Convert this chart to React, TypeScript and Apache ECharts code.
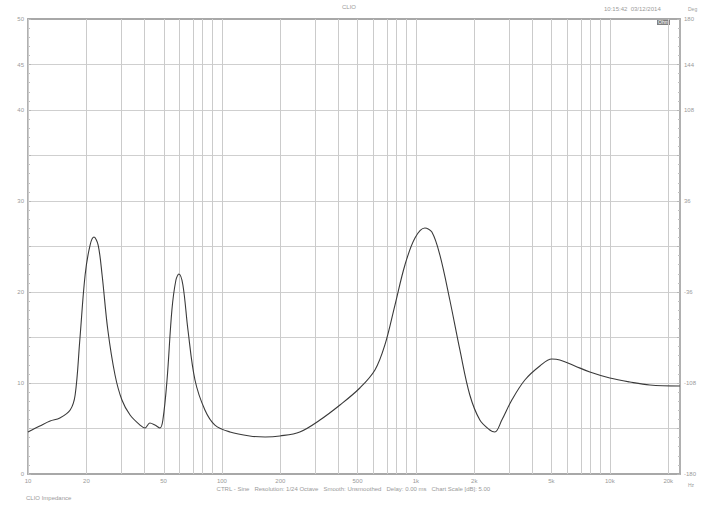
import React, { useEffect, useRef } from "react";
import * as echarts from "echarts";

// Impedance curve (frequency in Hz, magnitude in Ohm)
const freqs = [10, 11.5, 13.0, 14.6, 16.5, 17.5, 18.5, 19.7, 20.9, 21.9, 23.0, 24.1, 25.8, 28.1, 30.5, 33.6, 37.8, 40.1, 42.5, 45.1, 47.9, 49.6, 52.1, 55.2, 57.9, 60.0, 62.9, 66.8, 72.6, 81.7, 92.0, 110, 139, 167, 199, 252, 320, 406, 514, 615, 692, 780, 878, 989, 1112, 1209, 1329, 1496, 1686, 1897, 2137, 2405, 2553, 2774, 3124, 3646, 4356, 5023, 5521, 6602, 7889, 10000, 12680, 16070, 22960];
const ohms = [4.62, 5.27, 5.82, 6.15, 7.03, 8.68, 14.73, 21.87, 25.16, 26.04, 25.16, 21.87, 15.82, 10.88, 8.13, 6.48, 5.38, 5.05, 5.6, 5.38, 5.05, 5.93, 10.33, 18.02, 21.32, 21.98, 20.77, 15.82, 10.33, 7.03, 5.38, 4.62, 4.18, 4.07, 4.18, 4.62, 5.93, 7.58, 9.45, 11.43, 14.18, 18.57, 22.97, 25.93, 27.03, 26.59, 24.07, 19.12, 13.63, 8.68, 5.93, 4.84, 4.62, 5.93, 8.13, 10.33, 11.87, 12.64, 12.53, 11.87, 11.21, 10.55, 10.11, 9.78, 9.67];

const xLabelFreqs = [10, 20, 50, 100, 200, 500, 1000, 2000, 5000, 10000, 20000];
const xGridFreqs = [10, 20, 30, 40, 50, 60, 70, 80, 90, 100, 200, 300, 400, 500, 600, 700, 800, 900, 1000, 2000, 3000, 4000, 5000, 6000, 7000, 8000, 9000, 10000, 20000];
const leftLabels = [0, 10, 20, 30, 40, 45, 50];
const rightLabels = [-180, -108, -36, 36, 108, 144, 180];

const fmtFreq = (f: number) => (f >= 1000 ? `${Math.round(f / 1000)}k` : `${Math.round(f)}`);

export default function App() {
  const ref = useRef<HTMLDivElement>(null);
  useEffect(() => {
    if (!ref.current) return;
    const chart = echarts.init(ref.current, null, { renderer: "svg" });
    const lg = (f: number) => Math.log10(f);
    const textStyle = { fontFamily: "Liberation Sans", fontSize: 6, color: "#9a9a9a" };
    chart.setOption({
      animation: false,
      grid: { left: 28, right: 27, top: 19, bottom: 36, containLabel: false },
      xAxis: [
        {
          type: "value",
          min: 1,
          max: lg(23000),
          axisLine: { show: true, onZero: false, lineStyle: { color: "#a8a8a8", width: 2 } },
          axisTick: { show: false },
          splitLine: { show: false },
          axisLabel: {
            customValues: xLabelFreqs.map(lg),
            formatter: (v: number) => fmtFreq(Math.pow(10, v)),
            ...textStyle,
            margin: 4,
            showMinLabel: true,
            showMaxLabel: true,
          },
        },
        {
          type: "value",
          position: "top",
          min: 1,
          max: lg(23000),
          axisLine: { show: true, onZero: false, lineStyle: { color: "#a8a8a8", width: 2 } },
          axisTick: { show: false },
          axisLabel: { show: false },
          splitLine: { show: false },
        },
      ],
      yAxis: [
        {
          type: "value",
          min: 0,
          max: 50,
          interval: 5,
          axisLine: { show: true, onZero: false, lineStyle: { color: "#b0b0b0", width: 2 } },
          axisTick: { show: true, inside: true, length: 3, lineStyle: { color: "#b8b8b8" } },
          minorTick: { show: true, splitNumber: 5, length: 2, lineStyle: { color: "#c0c0c0" } },
          splitLine: { show: true, lineStyle: { color: "#cfcfcf", width: 1 } },
          axisLabel: {
            formatter: (v: number) => (leftLabels.includes(v) ? `${v}` : ""),
            ...textStyle,
            margin: 4,
          },
        },
        {
          type: "value",
          min: -180,
          max: 180,
          interval: 36,
          position: "right",
          axisLine: { show: true, onZero: false, lineStyle: { color: "#b0b0b0", width: 2 } },
          axisTick: { show: true, inside: true, length: 3, lineStyle: { color: "#b8b8b8" } },
          minorTick: { show: true, splitNumber: 5, length: 2, lineStyle: { color: "#c0c0c0" } },
          splitLine: { show: false },
          axisLabel: {
            formatter: (v: number) => (rightLabels.includes(v) ? `${v}` : ""),
            ...textStyle,
            margin: 4,
          },
        },
      ],
      series: [
        {
          type: "line",
          xAxisIndex: 0,
          yAxisIndex: 0,
          data: freqs.map((f, i) => [lg(f), ohms[i]]),
          showSymbol: false,
          smooth: 0.35,
          lineStyle: { color: "#3a3a3a", width: 1.1 },
          markLine: {
            silent: true,
            symbol: ["none", "none"],
            label: { show: false },
            lineStyle: { color: "#cbcbcb", width: 1, type: "solid" },
            data: xGridFreqs.map((f) => ({ xAxis: lg(f) })),
          },
          z: 5,
        },
      ],
      graphic: [
        { type: "text", left: 342, top: 4, style: { text: "CLIO", fill: "#9a9a9a", fontSize: 6, fontFamily: "Liberation Sans" } },
        { type: "text", x: 604, y: 6, style: { text: "10:15:42  03/12/2014", fill: "#9a9a9a", fontSize: 6, fontFamily: "Liberation Sans" } },
        { type: "rect", shape: { x: 657, y: 19, width: 13, height: 6 }, style: { fill: "#808080" } },
        { type: "text", x: 658, y: 19.5, style: { text: "Ohm", fill: "#ffffff", fontSize: 5, fontFamily: "Liberation Sans" } },
        { type: "text", x: 688, y: 6, style: { text: "Deg", fill: "#a0a0a0", fontSize: 5, fontFamily: "Liberation Sans" } },
        { type: "text", x: 688, y: 482, style: { text: "Hz", fill: "#a0a0a0", fontSize: 5, fontFamily: "Liberation Sans" } },
        {
          type: "text",
          left: "center",
          top: 486,
          style: {
            text: "CTRL - Sine   Resolution: 1/24 Octave   Smooth: Unsmoothed   Delay: 0.00 ms   Chart Scale [dB]: 5.00",
            fill: "#9a9a9a",
            fontSize: 6,
            fontFamily: "Liberation Sans",
          },
        },
        { type: "text", x: 26, y: 495, style: { text: "CLIO Impedance", fill: "#9a9a9a", fontSize: 6, fontFamily: "Liberation Sans" } },
      ],
    });
    return () => chart.dispose();
  }, []);
  return (
    <div
      ref={ref}
      style={{ position: "fixed", left: 0, top: 0, width: 707, height: 510, background: "#ffffff" }}
    />
  );
}
